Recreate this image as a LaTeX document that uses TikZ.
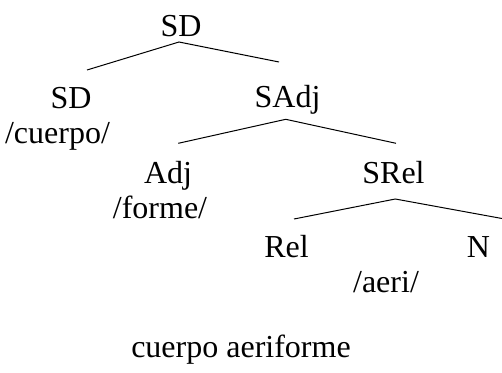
\documentclass[tikz,border=0pt]{standalone}
\usepackage{fontspec}
\setmainfont{Liberation Serif}
\begin{document}
\begin{tikzpicture}[x=1pt,y=-1pt,
  lab/.style={anchor=base,inner sep=0pt,font=\fontsize{32}{38}\selectfont},
  branch/.style={line width=1pt,black}]
\useasboundingbox (0,0) rectangle (502,372);
% labels
\node[lab] (SD0) at (181,36) {SD};
\node[lab] (SD1) at (71,108) {SD};
\node[lab] (cuerpo) at (57.5,143) {/cuerpo/};
\node[lab] (SAdj) at (287.5,107) {SAdj};
\node[lab] (Adj) at (168,183) {Adj};
\node[lab] (forme) at (160,218) {/forme/};
\node[lab] (SRel) at (393.5,183) {SRel};
\node[lab] (Rel) at (286.5,257) {Rel};
\node[lab] (N) at (478.5,257) {N};
\node[lab] (aeri) at (386,292) {/aeri/};
\node[lab] (gloss) at (241,357) {cuerpo aeriforme};
% branch points
\coordinate (a0) at (179,42);
\coordinate (l0) at (87,70);
\coordinate (r0) at (279,62);
\coordinate (a1) at (285.7,119.3);
\coordinate (l1) at (178.3,143.3);
\coordinate (r1) at (396,143.3);
\coordinate (a2) at (395.3,199);
\coordinate (l2) at (294,219);
\coordinate (r2) at (502,218.5);
\draw[branch] (l0) -- (a0) -- (r0);
\draw[branch] (l1) -- (a1) -- (r1);
\draw[branch] (l2) -- (a2) -- (r2);
\end{tikzpicture}
\end{document}
